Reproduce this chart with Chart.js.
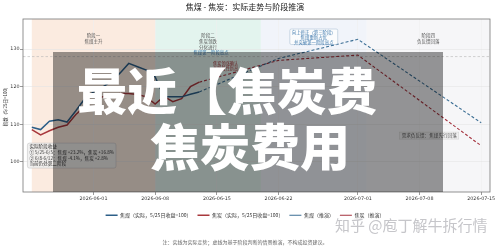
<!DOCTYPE html>
<html lang="zh">
<head>
<meta charset="utf-8">
<title>焦煤 - 焦炭：实际走势与阶段推演</title>
<script src="https://cdn.jsdelivr.net/npm/chart.js@4.4.1/dist/chart.umd.min.js"></script>
<style>
  html, body { margin: 0; padding: 0; background: #fff; }
  #wrap { position: relative; width: 500px; height: 247px; overflow: hidden; }
  canvas { display: block; }
  .shade { position: absolute; left: 53px; top: 52px; width: 390px; height: 140px; background: rgba(0, 0, 0, 0.4); }
  .big { position: absolute; color: #fff; font-family: "Noto Sans CJK SC", sans-serif; font-weight: 900;
         font-size: 50px; line-height: 1; white-space: nowrap; }
  .mark { position: absolute; left: 335px; top: 217px; color: #c6c6ca; font-family: "Noto Sans CJK SC", sans-serif;
          font-size: 15px; line-height: 1; white-space: nowrap; }
</style>
</head>
<body>
<div id="wrap">
  <canvas id="chart" width="500" height="247"></canvas>
  <div class="shade"></div>
  <div class="big" style="left:77px;top:63px">最近【焦炭费</div>
  <div class="big" style="left:150px;top:119px">焦炭费用</div>
  <div class="mark">知乎 @庖丁解牛拆行情</div>
</div>
<script>
// actual closes, indexed to 100
const actualDates = [
    "2026-05-25", "2026-05-26", "2026-05-27", "2026-05-28", "2026-05-29",
    "2026-05-30", "2026-05-31", "2026-06-01", "2026-06-02", "2026-06-03",
    "2026-06-04", "2026-06-05", "2026-06-06", "2026-06-07", "2026-06-08",
    "2026-06-09", "2026-06-10", "2026-06-11", "2026-06-12", "2026-06-13"
];
const coalActual = [109.2, 108.6, 110.8, 111.2, 110.6, 113.6, 116.8, 118.6, 119.8, 121.4,
                    123.6, 126.2, 125.3, 124.4, 122.6, 117.3, 117.3, 117.3, 118.0, 118.6];
const cokeActual = [108.6, 107.2, 108.3, 109.2, 109.8, 112.6, 114.7, 116.2, 117.3, 117.7,
                    118.2, 118.2, 117.9, 117.3, 115.4, 117.4, 116.0, 116.8, 120.0, 121.2];

// scenario path
const forecastDates = ["2026-06-13", "2026-06-22", "2026-07-01", "2026-07-15"];
const coalForecast = [118.6, 127.5, 132.6, 110.4];
const cokeForecast = [121.2, 127.0, 128.4, 104.3];

const seriesLabels = [
    "焦煤（实际，5/25日收盘=100）",
    "焦炭（实际，5/25日收盘=100）",
    "焦煤（推演）",
    "焦炭（推演）"
];

const xTickDates = ["2026-06-01", "2026-06-08", "2026-06-15", "2026-06-22", "2026-07-01", "2026-07-08", "2026-07-15"];
const yTickValues = [100, 110, 120, 130];
const coalStage1High = 128;

const stageStarts = ["2026-05-25", "2026-06-08", "2026-06-20", "2026-07-02"];
const stageEnds = ["2026-06-08", "2026-06-20", "2026-07-02", "2026-07-16"];
const stageLines = [
    ["阶段一", "焦煤主升"],
    ["阶段二", "焦炭领跌", "分化进行"],
    ["向上修正（第三阶段）", "焦煤重新占优", "并突破第一阶段高点"],
    ["阶段四", "负反馈回落"]
];
const stageColors = ["rgba(250, 228, 214, 0.75)", "rgba(220, 241, 234, 0.8)", "rgba(238, 241, 249, 0.8)", "rgba(244, 244, 246, 0.8)"];

const summaryLines = [
    "实际阶段收益",
    "① 5/25-6/5：焦煤 +23.2%，焦炭 +16.8%",
    "② 6/8-6/12：焦煤 -4.1%，焦炭 +2.8%",
    "当前仍处第二阶段"
];
const highLabel = "焦煤第一阶段高点";
const cokeNote = ["焦炭领涨确认", "并阶段性新高"];
const demandNote = "需求负反馈：焦煤先行回落";

const chartTitle = "焦煤 - 焦炭：实际走势与阶段推演";
const footNote = "注：实线为实际走势；虚线为基于阶段判断的情景推演，不构成投资建议。";

const DAY_MS = 86400000;
const ORIGIN = Date.UTC(2026, 4, 25);

function dayOf(s) {
    const [yy, mm, dd] = s.split("-").map(Number);
    return (Date.UTC(yy, mm - 1, dd) - ORIGIN) / DAY_MS;
}

function points(dates, values) {
    return dates.map((d, i) => ({ x: dayOf(d), y: values[i] }));
}

const CJK = '"Noto Sans CJK SC", "DejaVu Sans", sans-serif';

function label(ctx, str, px, py, size, color, align = "center") {
    ctx.font = `${size}px ${CJK}`;
    ctx.fillStyle = color;
    ctx.textAlign = align;
    ctx.textBaseline = "middle";
    ctx.fillText(str, px, py);
}

const stageNotes = {
    id: "stageNotes",

    beforeDraw(chart) {
        const { ctx, chartArea: a, scales: { x } } = chart;
        ctx.save();
        stageStarts.forEach((s, i) => {
            const x0 = Math.max(a.left, x.getPixelForValue(dayOf(s)));
            const x1 = Math.min(a.right, x.getPixelForValue(dayOf(stageEnds[i])));
            ctx.fillStyle = stageColors[i];
            ctx.fillRect(x0, a.top, x1 - x0, a.bottom - a.top);
        });
        ctx.restore();
    },

    beforeDatasetsDraw(chart) {
        const { ctx, chartArea: a, scales: { y } } = chart;
        const py = y.getPixelForValue(coalStage1High);
        ctx.save();
        ctx.strokeStyle = "#b4b4b4";
        ctx.lineWidth = 0.6;
        ctx.setLineDash([2.5, 2]);
        ctx.beginPath();
        ctx.moveTo(a.left, py);
        ctx.lineTo(a.right, py);
        ctx.stroke();
        ctx.restore();
    },

    afterDatasetsDraw(chart) {
        const { ctx, chartArea: a, scales: { x, y } } = chart;
        ctx.save();

        const mid = (i) => (x.getPixelForValue(dayOf(stageStarts[i])) + x.getPixelForValue(dayOf(stageEnds[i]))) / 2;

        // stage titles
        [0, 1, 3].forEach((i) => {
            stageLines[i].forEach((t, k) => label(ctx, t, mid(i), a.top + 16 + k * 6, 4.5, "#555"));
        });
        label(ctx, highLabel, mid(1) + 3, y.getPixelForValue(coalStage1High) - 4.5, 4.4, "#3f79ad");

        // stage three box
        const c3 = mid(2);
        ctx.font = `4.4px ${CJK}`;
        const w3 = Math.max(...stageLines[2].map((t) => ctx.measureText(t).width)) + 4;
        ctx.fillStyle = "rgba(255, 255, 255, 0.7)";
        ctx.strokeStyle = "#9fb6cc";
        ctx.lineWidth = 0.5;
        ctx.beginPath();
        ctx.roundRect(c3 - w3 / 2, a.top + 10, w3, 15.5, 1.5);
        ctx.fill();
        ctx.stroke();
        stageLines[2].forEach((t, k) => label(ctx, t, c3, a.top + 13 + k * 5, 4.4, "#3f79ad"));

        // coke note
        const cx = x.getPixelForValue(dayOf("2026-06-16"));
        cokeNote.forEach((t, k) => label(ctx, t, cx, y.getPixelForValue(126.2) + k * 5, 4.2, "#a8383c"));

        // demand note
        const dx = x.getPixelForValue(45.1);
        const dy = y.getPixelForValue(107);
        ctx.font = `4.6px ${CJK}`;
        const wd = ctx.measureText(demandNote).width + 4;
        ctx.fillStyle = "rgba(238, 238, 238, 0.9)";
        ctx.strokeStyle = "#cfcfcf";
        ctx.lineWidth = 0.5;
        ctx.fillRect(dx - wd / 2, dy - 3.5, wd, 7);
        ctx.strokeRect(dx - wd / 2, dy - 3.5, wd, 7);
        label(ctx, demandNote, dx, dy, 4.6, "#555");

        // summary box
        const bx = x.getPixelForValue(-0.5);
        const by = y.getPixelForValue(105);
        ctx.font = `4.6px ${CJK}`;
        const wb = Math.max(...summaryLines.map((t) => ctx.measureText(t).width)) + 4;
        ctx.fillStyle = "rgba(238, 238, 238, 0.85)";
        ctx.strokeStyle = "#bdbdbd";
        ctx.beginPath();
        ctx.roundRect(bx, by, wb, 25, 2);
        ctx.fill();
        ctx.stroke();
        summaryLines.forEach((t, k) => label(ctx, t, bx + 2, by + 3.5 + k * 5.6, 4.6, "#333", "left"));

        ctx.restore();
    },

    afterDraw(chart) {
        const { ctx, chartArea: a } = chart;
        ctx.save();
        ctx.strokeStyle = "#777";
        ctx.lineWidth = 0.8;
        ctx.strokeRect(a.left, a.top, a.right - a.left, a.bottom - a.top);
        ctx.restore();
    }
};

Chart.defaults.font.family = CJK;
Chart.defaults.color = "#333";

new Chart(document.getElementById("chart"), {
    type: "line",
    data: {
        datasets: [
            { label: seriesLabels[0], data: points(actualDates, coalActual), borderColor: "#2d5f88", borderWidth: 1.5 },
            { label: seriesLabels[1], data: points(actualDates, cokeActual), borderColor: "#a8383c", borderWidth: 1.5 },
            { label: seriesLabels[2], data: points(forecastDates, coalForecast), borderColor: "#3b6e94", borderWidth: 1.1, borderDash: [3, 2] },
            { label: seriesLabels[3], data: points(forecastDates, cokeForecast), borderColor: "#a5323e", borderWidth: 1.1, borderDash: [3, 2] }
        ]
    },
    options: {
        responsive: false,
        animation: false,
        layout: { padding: { left: 0, right: 10, top: 0, bottom: 0 } },
        elements: {
            point: { radius: 0, hoverRadius: 0 },
            line: { tension: 0, fill: false }
        },
        plugins: {
            title: {
                display: true,
                text: chartTitle,
                color: "#222",
                font: { size: 8, weight: "normal" },
                padding: { top: 2, bottom: 7.4 }
            },
            legend: {
                position: "bottom",
                labels: {
                    usePointStyle: true,
                    pointStyle: "line",
                    pointStyleWidth: 12,
                    padding: 6,
                    color: "#333",
                    font: { size: 5 }
                }
            },
            subtitle: {
                display: true,
                position: "bottom",
                text: footNote,
                color: "#666",
                font: { size: 5 },
                padding: { top: 11.25, bottom: 2 }
            },
            tooltip: { enabled: false }
        },
        scales: {
            x: {
                type: "linear",
                min: -1,
                max: 52,
                afterFit: (scale) => { scale.height = 14.75; },
                afterBuildTicks: (scale) => {
                    scale.ticks = xTickDates.map((d) => ({ value: dayOf(d) }));
                },
                ticks: {
                    autoSkip: false,
                    maxRotation: 0,
                    padding: 1,
                    color: "#333",
                    font: { family: "DejaVu Sans", size: 4.8 },
                    callback: (value) => {
                        const hit = xTickDates.find((d) => dayOf(d) === value);
                        return hit ?? "";
                    }
                },
                grid: { color: "#eeeeee", lineWidth: 0.6, tickLength: 3, tickColor: "#555" },
                border: { display: false }
            },
            y: {
                type: "linear",
                min: 92,
                max: 138,
                afterFit: (scale) => { scale.width = 23; },
                afterBuildTicks: (scale) => {
                    scale.ticks = yTickValues.map((v) => ({ value: v }));
                },
                ticks: {
                    padding: 0.5,
                    color: "#333",
                    font: { family: "DejaVu Sans", size: 4.8 }
                },
                title: {
                    display: true,
                    text: "指数（5/25日=100）",
                    color: "#333",
                    font: { size: 4.5 },
                    padding: { top: 2.3, bottom: 0 }
                },
                grid: { color: "#e4e4e4", lineWidth: 0.6, tickLength: 3, tickColor: "#555" },
                border: { display: false }
            }
        }
    },
    plugins: [stageNotes]
});
</script>
</body>
</html>
